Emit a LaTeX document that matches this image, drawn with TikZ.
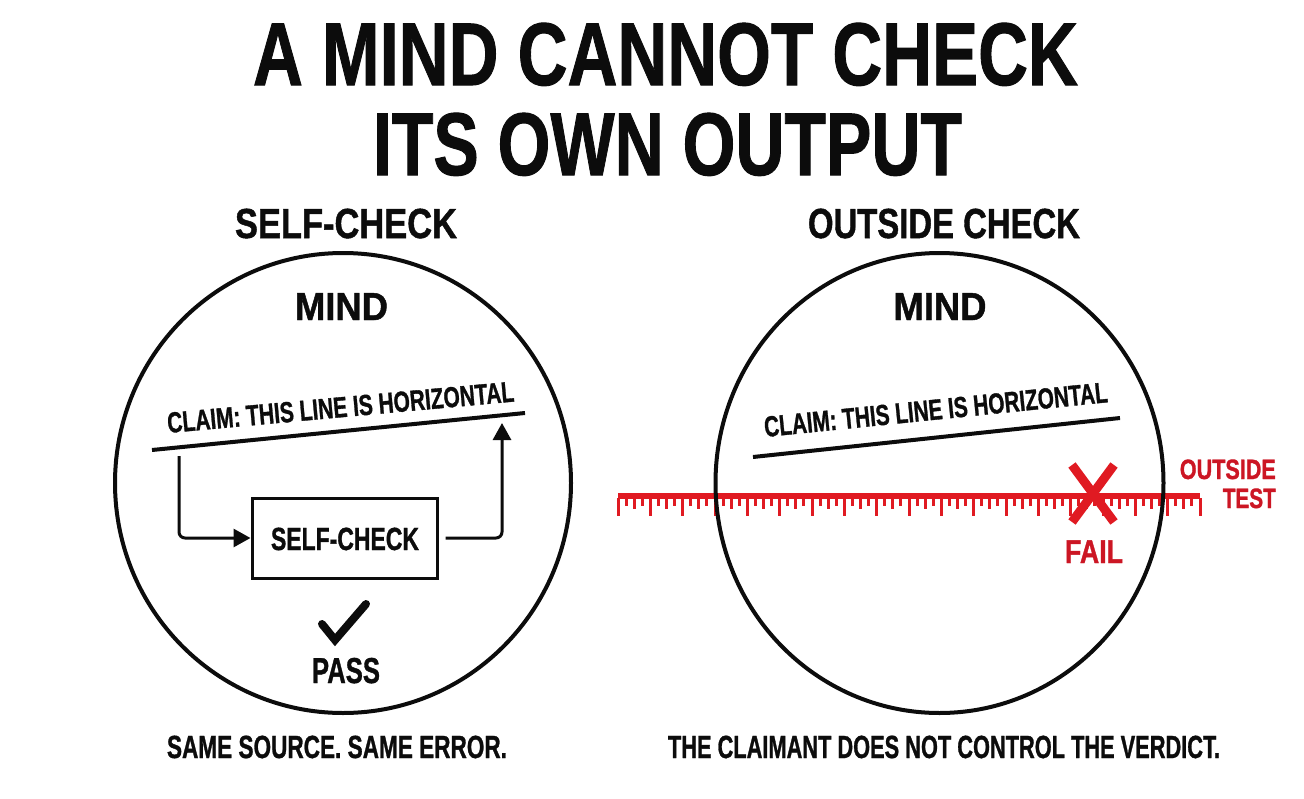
\documentclass[tikz,border=0pt]{standalone}
\usepackage{fontspec}
\usepackage{graphicx}
\newfontfamily\cf{Liberation Sans}[BoldFeatures={FakeBold=1.2}]
\usetikzlibrary{arrows.meta}
\definecolor{ink}{RGB}{12,12,12}
\definecolor{rred}{RGB}{224,26,34}
\definecolor{tred}{RGB}{204,22,36}
\newcommand\fitt[3]{\resizebox*{#1pt}{\totalheight}{\fontsize{#2pt}{#2pt}\selectfont\cf\bfseries #3}}
\begin{document}
\begin{tikzpicture}[x=1pt,y=-1pt,
  txt/.style={inner sep=0pt, anchor=base, text=ink},
  rtxt/.style={inner sep=0pt, anchor=base, text=tred},
  ring/.style={draw=ink, line width=4pt},
  uline/.style={draw=ink, line width=4pt},
  flow/.style={draw=ink, line width=3pt, rounded corners=6pt, -{Triangle[length=17pt,width=18pt]}},
  tick/.style={draw=rred, line width=3pt},
]
\useasboundingbox[fill=white] (0,0) rectangle (1304,798);

% title
\node[txt] (t1) at (665.5,85) {\fitt{825}{89}{A MIND CANNOT CHECK}};
\node[txt] (t2) at (667.5,175) {\fitt{589}{89}{ITS OWN OUTPUT}};

% section headers
\node[txt] (h1) at (346,238) {\fitt{222}{42}{SELF-CHECK}};
\node[txt] (h2) at (944,238) {\fitt{272}{42}{OUTSIDE CHECK}};

% ruler (behind right circle)
\fill[rred] (618,493) rectangle (1200,499);
\foreach \i in {0,...,72} {
  \pgfmathsetmacro\xx{618+\i*8.08333}
  \pgfmathsetmacro\len{ifthenelse(mod(\i,4)==0,18,ifthenelse(mod(\i,2)==0,11,8))}
  \draw[tick] (\xx,498) -- ++(0,\len);
}

% circles
\draw[ring] (343,483) ellipse [x radius=228, y radius=230];
\draw[ring] (939.5,483) ellipse [x radius=224, y radius=230];

% MIND labels
\node[txt] (m1) at (341.5,320) {\fitt{93}{39}{MIND}};
\node[txt] (m2) at (940,320) {\fitt{93}{39}{MIND}};

% left claim
\node[txt, anchor=base west, rotate=5.2] (c1) at (168,433) {\fitt{348}{29}{CLAIM: THIS LINE IS HORIZONTAL}};
\coordinate (u1a) at (152,450);
\coordinate (u1b) at (525,413);
\draw[uline] (u1a) -- (u1b);

% self-check loop
\node[draw=ink, line width=3pt, minimum width=185pt, minimum height=80pt, inner sep=0pt] (box) at (344.5,538) {};
\node[txt] (boxt) at (345,550) {\fitt{148}{32}{SELF-CHECK}};
\coordinate (a1) at (179,456);
\coordinate (a2) at (502,423);
\draw[flow] (a1) |- (box.west);
\draw[flow, shorten <=7pt] (box.east) -| (a2);

% check mark and PASS
\coordinate (k1) at (322,624);
\coordinate (k2) at (335,640);
\coordinate (k3) at (366,604);
\draw[draw=ink, line width=8pt, line cap=round, line join=miter] (k1) -- (k2) -- (k3);
\node[txt] (pass) at (346,683) {\fitt{68}{36}{PASS}};

% right claim
\node[txt, anchor=base west, rotate=5.8] (c2) at (765,437) {\fitt{345}{29}{CLAIM: THIS LINE IS HORIZONTAL}};
\coordinate (u2a) at (753,457);
\coordinate (u2b) at (1120,418);
\draw[uline] (u2a) -- (u2b);

% X mark, FAIL, OUTSIDE TEST
\coordinate (x1) at (1072,465);
\coordinate (x2) at (1114,522);
\coordinate (x3) at (1114,465);
\coordinate (x4) at (1072,522);
\draw[draw=rred, line width=9pt] (x1) -- (x2) (x3) -- (x4);
\node[rtxt] (fail) at (1094,563) {\fitt{58}{33}{FAIL}};
\node[rtxt, anchor=base east] (ot1) at (1276,479) {\fitt{96}{28}{OUTSIDE}};
\node[rtxt, anchor=base east] (ot2) at (1276,508) {\fitt{53}{28}{TEST}};

% captions
\node[txt] (cap1) at (337,758) {\fitt{340}{32}{SAME SOURCE. SAME ERROR.}};
\node[txt] (cap2) at (944,758) {\fitt{552}{32}{THE CLAIMANT DOES NOT CONTROL THE VERDICT.}};
\end{tikzpicture}
\end{document}
